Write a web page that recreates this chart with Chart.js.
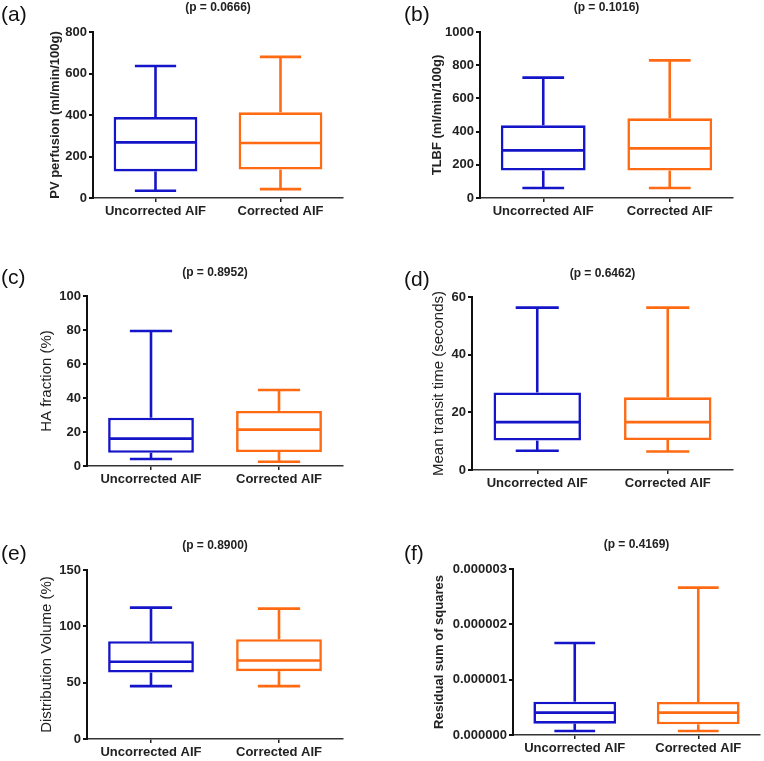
<!DOCTYPE html>
<html>
<head>
<meta charset="utf-8">
<script src="https://cdn.jsdelivr.net/npm/chart.js@4.4.1/dist/chart.umd.min.js"></script>
<style>
  body { margin: 0; background: #fff; }
  #page { position: relative; width: 764px; height: 761px; overflow: hidden; }
  #page canvas { position: absolute; }
</style>
</head>
<body>
<div id="page">
  <canvas id="chartA" width="380" height="240" style="left:0;top:0"></canvas>
  <canvas id="chartB" width="384" height="240" style="left:380px;top:0"></canvas>
  <canvas id="chartC" width="380" height="260" style="left:0;top:240px"></canvas>
  <canvas id="chartD" width="384" height="260" style="left:380px;top:240px"></canvas>
  <canvas id="chartE" width="380" height="261" style="left:0;top:500px"></canvas>
  <canvas id="chartF" width="384" height="261" style="left:380px;top:500px"></canvas>
</div>
<script>
const groups = ['Uncorrected AIF', 'Corrected AIF'];

// box stats per group: [min, q1, median, q3, max]
const pvUncorrected = [35, 128, 268, 390, 636];
const pvCorrected = [43, 137, 265, 413, 680];
const tlbfUncorrected = [60, 165, 287, 438, 725];
const tlbfCorrected = [60, 165, 299, 480, 829];
const haUncorrected = [4.1, 7.8, 16.1, 28.4, 79.4];
const haCorrected = [2.5, 8.2, 21.4, 32.4, 44.7];
const mttUncorrected = [6.7, 10.2, 16.6, 26.9, 56.3];
const mttCorrected = [6.4, 10.4, 16.6, 25.2, 56.3];
const dvUncorrected = [46.9, 59.0, 68.5, 86.8, 116.6];
const dvCorrected = [46.9, 60.2, 69.7, 88.6, 115.7];
const rssUncorrected = [0.000000072, 0.000000205, 0.000000404, 0.000000602, 0.000001663];
const rssCorrected = [0.000000072, 0.000000193, 0.000000404, 0.000000596, 0.000002663];

const panelLetters = ['(a)', '(b)', '(c)', '(d)', '(e)', '(f)'];
const pValues = ['(p = 0.0666)', '(p = 0.1016)', '(p = 0.8952)', '(p = 0.6462)', '(p = 0.8900)', '(p = 0.4169)'];
const yTitles = ['PV perfusion (ml/min/100g)', 'TLBF (ml/min/100g)', 'HA fraction (%)',
                 'Mean transit time (seconds)', 'Distribution Volume (%)', 'Residual sum of squares'];
const yMaxes = [800, 1000, 100, 60, 150, 0.000003];
const ySteps = [200, 200, 20, 20, 50, 0.000001];
const tickDecimals = [0, 0, 0, 0, 0, 6];
const panelStats = [
    [pvUncorrected, pvCorrected],
    [tlbfUncorrected, tlbfCorrected],
    [haUncorrected, haCorrected],
    [mttUncorrected, mttCorrected],
    [dvUncorrected, dvCorrected],
    [rssUncorrected, rssCorrected]
];

const boxColors = ['#1414c8', '#ff6a12'];
const FONT = '"Liberation Sans", Arial, sans-serif';

// layout of each panel: canvas id, plot area edges, title/label positions
const panelLayout = [
    { id: 'chartA', l: 93, t: 32, r: 343, b: 198, pY: 8, yTitleX: 55, bold: true, letterX: 1, letterY: 15 },
    { id: 'chartB', l: 100, t: 32, r: 353, b: 198, pY: 8, yTitleX: 57, bold: true, letterX: 24, letterY: 15 },
    { id: 'chartC', l: 87, t: 56, r: 343, b: 226, pY: 33, yTitleX: 47, bold: false, letterX: 1, letterY: 38 },
    { id: 'chartD', l: 92, t: 57, r: 353, b: 230, pY: 34, yTitleX: 59, bold: false, letterX: 24, letterY: 40 },
    { id: 'chartE', l: 87, t: 70, r: 343, b: 239, pY: 46, yTitleX: 47, bold: false, letterX: 1, letterY: 54 },
    { id: 'chartF', l: 133, t: 69, r: 380, b: 235, pY: 45, yTitleX: 59, bold: true, letterX: 24, letterY: 54 }
];

// whiskers, caps and median drawn on top of the floating-bar boxes
const whiskerPlugin = {
    id: 'whiskers',
    afterDatasetsDraw(chart, args, opts) {
        const { ctx, scales: { x, y } } = chart;
        const meta = chart.getDatasetMeta(0);
        const capHalf = x.width / 2 * 0.165;
        ctx.save();
        ctx.lineWidth = 2.6;
        ctx.lineCap = 'butt';
        opts.stats.forEach((s, i) => {
            const [mn, q1, med, q3, mx] = s;
            const cx = x.getPixelForValue(i);
            const half = meta.data[i].width / 2;
            const line = (x1, y1, x2, y2) => {
                ctx.beginPath();
                ctx.moveTo(x1, y1);
                ctx.lineTo(x2, y2);
                ctx.stroke();
            };
            ctx.strokeStyle = boxColors[i];
            line(cx, y.getPixelForValue(mx), cx, y.getPixelForValue(q3));
            line(cx, y.getPixelForValue(q1), cx, y.getPixelForValue(mn));
            line(cx - capHalf, y.getPixelForValue(mx), cx + capHalf, y.getPixelForValue(mx));
            line(cx - capHalf, y.getPixelForValue(mn), cx + capHalf, y.getPixelForValue(mn));
            line(cx - half + 1, y.getPixelForValue(med), cx + half - 1, y.getPixelForValue(med));
        });
        ctx.restore();
    }
};

// panel letter in the top-left corner
const letterPlugin = {
    id: 'panelLetter',
    afterDraw(chart, args, opts) {
        const ctx = chart.ctx;
        ctx.save();
        ctx.font = '21px ' + FONT;
        ctx.fillStyle = '#111';
        ctx.textBaseline = 'middle';
        ctx.textAlign = 'left';
        ctx.fillText(opts.text, opts.x, opts.y);
        ctx.restore();
    }
};

function makePanel(k) {
    const lay = panelLayout[k];
    const canvas = document.getElementById(lay.id);
    const W = canvas.width, H = canvas.height;
    const stats = panelStats[k];
    const titleLine = 12 * 1.2;
    const titleTop = lay.pY - titleLine / 2;
    const yFontSize = lay.bold ? 13 : 15;

    new Chart(canvas, {
        type: 'bar',
        data: {
            labels: groups,
            datasets: [{
                data: stats.map(s => [s[1], s[3]]),
                backgroundColor: '#ffffff',
                borderColor: boxColors,
                borderWidth: 2.6,
                borderSkipped: false,
                barPercentage: 0.67,
                categoryPercentage: 1
            }]
        },
        options: {
            responsive: false,
            animation: false,
            layout: { padding: { top: 0, left: 0, bottom: 0, right: W - lay.r } },
            plugins: {
                legend: { display: false },
                tooltip: { enabled: false },
                title: {
                    display: true,
                    fullSize: false,
                    text: pValues[k],
                    color: '#222',
                    font: { family: FONT, size: 12, weight: 'bold' },
                    padding: { top: titleTop, bottom: lay.t - titleTop - titleLine }
                },
                whiskers: { stats: stats },
                panelLetter: { text: panelLetters[k], x: lay.letterX, y: lay.letterY }
            },
            scales: {
                x: {
                    offset: true,
                    afterFit: scale => { scale.height = H - lay.b; },
                    grid: { offset: false, drawOnChartArea: false, tickLength: 4, color: '#222', lineWidth: 1.5 },
                    border: { color: '#333', width: 1.5, dash: [2, 2] },
                    ticks: { color: '#222', padding: 2, font: { family: FONT, size: 13, weight: 'bold' } }
                },
                y: {
                    min: 0,
                    max: yMaxes[k],
                    afterFit: scale => { scale.width = lay.l; },
                    grid: { drawOnChartArea: false, tickLength: 4, color: '#111', lineWidth: 2 },
                    border: { color: '#111', width: 2 },
                    ticks: {
                        stepSize: ySteps[k],
                        color: '#222',
                        padding: 2,
                        font: { family: FONT, size: 13, weight: 'bold' },
                        callback: v => Number(v).toFixed(tickDecimals[k])
                    },
                    title: {
                        display: true,
                        text: yTitles[k],
                        color: '#222',
                        font: { family: FONT, size: yFontSize, weight: lay.bold ? 'bold' : 'normal' },
                        padding: { top: lay.yTitleX - yFontSize * 1.2 / 2, bottom: 0 }
                    }
                }
            }
        },
        plugins: [whiskerPlugin, letterPlugin]
    });
}

for (let k = 0; k < panelLayout.length; k++) {
    makePanel(k);
}
</script>
</body>
</html>
